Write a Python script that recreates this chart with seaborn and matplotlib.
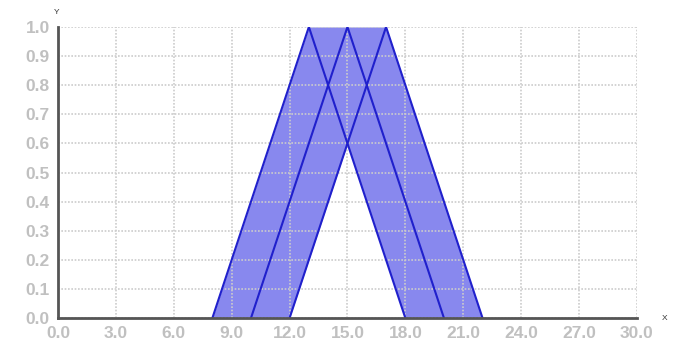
import numpy as np
import pandas as pd
import matplotlib
matplotlib.use("Agg")
import matplotlib.pyplot as plt
import seaborn as sns

# triangular membership functions (left, peak, right)
tri_left = [8, 10, 12]
tri_peak = [13, 15, 17]
tri_right = [18, 20, 22]

# footprint of uncertainty: upper and lower membership outlines
upper_x = [8, 13, 17, 22]
upper_y = [0.0, 1.0, 1.0, 0.0]
lower_x = [12, 15, 18]
lower_y = [0.0, 0.6, 0.0]

x_ticks = [0, 3, 6, 9, 12, 15, 18, 21, 24, 27, 30]
y_ticks = [0.0, 0.1, 0.2, 0.3, 0.4, 0.5, 0.6, 0.7, 0.8, 0.9, 1.0]

rows = []
for i, (a, b, c) in enumerate(zip(tri_left, tri_peak, tri_right)):
    for xv, yv in [(a, 0), (b, 1), (c, 0)]:
        rows.append({"x": xv, "y": yv, "set": f"T{i}"})
df = pd.DataFrame(rows)

sns.set_style("white")
plt.rcParams["font.family"] = ["Liberation Sans", "DejaVu Sans"]
fig = plt.figure(figsize=(6.86, 3.45), dpi=100)
ax = fig.add_axes([0.0845, 0.078, 0.844, 0.844])

xs = np.linspace(0, 30, 3001)
up = np.interp(xs, upper_x, upper_y, left=0, right=0)
lo = np.interp(xs, lower_x, lower_y, left=0, right=0)
ax.fill_between(xs, lo, up, where=up > 0, color="#8888ee", linewidth=0, zorder=1)

sns.lineplot(data=df, x="x", y="y", units="set", estimator=None, sort=False,
             color="#2020cc", linewidth=1.5, ax=ax, zorder=3)

ax.set_xlim(0, 30)
ax.set_ylim(0, 1)
ax.set_xticks(x_ticks)
ax.set_xticklabels([f"{v:.1f}" for v in x_ticks])
ax.set_yticks(y_ticks)
ax.set_yticklabels([f"{v:.1f}" for v in y_ticks])
ax.tick_params(length=0, labelsize=12.5, labelcolor="#c0c0c0", pad=6)
for lab in ax.get_xticklabels() + ax.get_yticklabels():
    lab.set_fontweight("bold")

ax.set_axisbelow(False)
ax.grid(True, color="#cccccc", linestyle=(0, (1, 1)), linewidth=1.2, zorder=2)
for s in ["top", "right"]:
    ax.spines[s].set_visible(False)
for s in ["left", "bottom"]:
    ax.spines[s].set_color("#555555")
    ax.spines[s].set_linewidth(2)
    ax.spines[s].set_zorder(4)

ax.set_xlabel("")
ax.set_ylabel("")
fig.text(665 / 686, 1 - 318 / 345, "X", fontsize=6, color="#333333", ha="center", va="center")
fig.text(57 / 686, 1 - 12 / 345, "Y", fontsize=6, color="#333333", ha="center", va="center")

fig.savefig("out.png", dpi=100)
